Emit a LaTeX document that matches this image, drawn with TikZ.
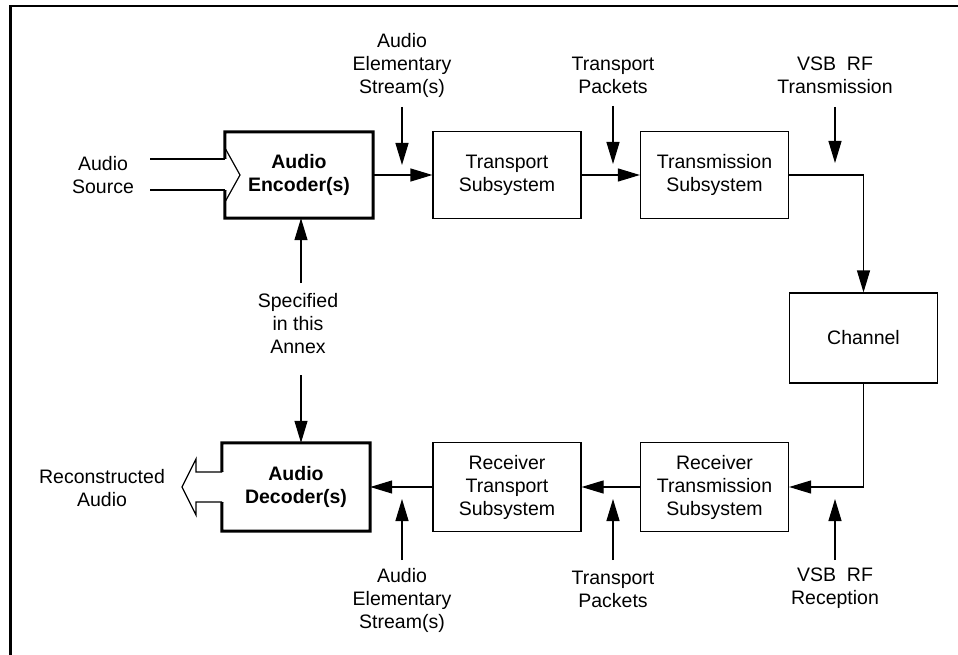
\documentclass[tikz,border=0pt]{standalone}
\usepackage{fontspec}
\setmainfont{Liberation Sans}
\usepackage{tikz}
\usetikzlibrary{arrows.meta}
\begin{document}
\begin{tikzpicture}[x=1pt,y=-1pt,
  every node/.style={font=\fontsize{19.5}{23}\selectfont,align=center,inner sep=0pt},
  blk/.style={draw,line width=1.2pt,minimum width=148pt,minimum height=87pt},
  arr/.style={line width=1.2pt,-{Triangle[length=22pt,width=13pt]}},
  lne/.style={line width=1.2pt},
  thk/.style={line width=3pt,line join=miter}]
 	\useasboundingbox (0,0) rectangle (958,655);
 	\draw[line width=2.4pt] (10.5,660) -- (10.5,6) -- (962,6);
 	% blocks
 	\node[minimum width=148pt,minimum height=86pt] (enc) at (299,175) {\textbf{Audio}\\\textbf{Encoder(s)}};
 	\node[blk] (tp) at (507,175) {Transport\\Subsystem};
 	\node[blk] (tx) at (714.5,175) {Transmission\\Subsystem};
 	\node[blk,minimum height=90pt] (ch) at (863.5,338) {Channel};
 	\node[blk,minimum height=89pt] (rtx) at (714.5,487) {Receiver\\Transmission\\Subsystem};
 	\node[blk,minimum height=89pt] (rtp) at (507,487) {Receiver\\Transport\\Subsystem};
 	\node[minimum width=148pt,minimum height=88pt] (dec) at (296,487) {\textbf{Audio}\\\textbf{Decoder(s)}};
 	\draw[thk] (225,159) -- (enc.north west) -- (enc.north east) -- (enc.south east) -- (enc.south west) -- (225,190);
 	\draw[thk] (222,472) -- (dec.north west) -- (dec.north east) -- (dec.south east) -- (dec.south west) -- (222,502);
 	% audio in and out
 	\node (src) at (103,175) {Audio\\Source};
 	\coordinate (srcA) at (150,159);
 	\coordinate (srcB) at (150,190);
 	\draw[lne] (srcA) -- (srcA -| enc.west);
 	\draw[lne] (srcB) -- (srcB -| enc.west);
 	\draw[lne] (225,148) -- (240,175) -- (225,202);
 	\node (rec) at (102,488) {Reconstructed\\Audio};
 	\draw[lne] (222,472) -- (196,472) -- (196,459) -- (182,487) -- (196,515) -- (196,502) -- (222,502);
 	% signal path
 	\draw[arr] (enc.east) -- (tp.west);
 	\draw[arr] (tp.east) -- (tx.west);
 	\draw[arr] (tx.east) -| (ch.north);
 	\draw[arr] (ch.south) |- (rtx.east);
 	\draw[arr] (rtx.west) -- (rtp.east);
 	\draw[arr] (rtp.west) -- (dec.east);
 	% labels on top
 	\node (aesT) at (402,65) {Audio\\Elementary\\Stream(s)};
 	\coordinate (aesTa) at (402,107);
 	\draw[arr,shorten >=10pt] (aesTa) -- (aesTa |- tp.west);
 	\node (tpkT) at (613,75.5) {Transport\\Packets};
 	\coordinate (tpkTa) at (613,106);
 	\draw[arr,shorten >=11pt] (tpkTa) -- (tpkTa |- tx.west);
 	\node (vsbT) at (835,75.5) {VSB~~RF\\Transmission};
 	\coordinate (vsbTa) at (835,107);
 	\draw[arr,shorten >=12pt] (vsbTa) -- (vsbTa |- tx.east);
 	% labels below
 	\node (aesB) at (402,600) {Audio\\Elementary\\Stream(s)};
 	\coordinate (aesBa) at (402,560);
 	\draw[arr,shorten >=12pt] (aesBa) -- (aesBa |- rtp.west);
 	\node (tpkB) at (613,589) {Transport\\Packets};
 	\coordinate (tpkBa) at (613,560);
 	\draw[arr,shorten >=12pt] (tpkBa) -- (tpkBa |- rtx.west);
 	\node (vsbB) at (835,588.5) {VSB~~RF\\Reception};
 	\coordinate (vsbBa) at (835,560);
 	\draw[arr,shorten >=12pt] (vsbBa) -- (vsbBa |- rtx.east);
 	% annex
 	\node (spec) at (298,324) {Specified\\in this\\Annex};
 	\coordinate (specU) at (301,283);
 	\coordinate (specD) at (301,375);
 	\draw[arr] (specU) -- (specU |- enc.south);
 	\draw[arr] (specD) -- (specD |- dec.north);
\end{tikzpicture}
\end{document}
